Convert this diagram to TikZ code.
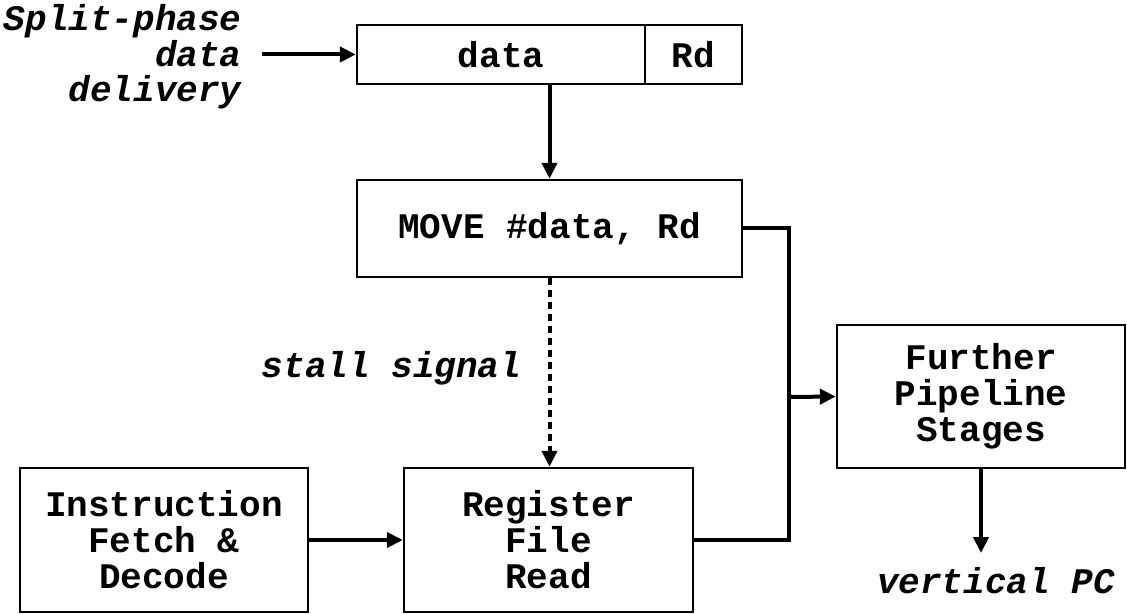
\documentclass[tikz,border=0pt]{standalone}
\usepackage{fontspec}
\setmainfont{Liberation Mono}
\usetikzlibrary{arrows.meta}
\begin{document}
\begin{tikzpicture}[x=0.5pt,y=-0.5pt,
  box/.style={draw,line width=1.2pt,inner sep=0pt,align=center,font=\fontsize{18}{18}\selectfont\bfseries},
  lbl/.style={inner sep=0pt,align=right,font=\fontsize{18}{17.8}\selectfont\bfseries\itshape},
  conn/.style={line width=2pt,-{Triangle[length=8pt,width=7.5pt]}},
  plainline/.style={line width=2pt},
  stallline/.style={line width=2pt,dash pattern=on 3.5pt off 2.5pt,-{Triangle[length=8pt,width=7.5pt]}},
]
\useasboundingbox (0,0) rectangle (1127,614);
\node[box,minimum width=144pt,minimum height=29.5pt] (datab) at (501,54.5) {data};
\node[box,minimum width=48.5pt,minimum height=29.5pt] (rdb) at (693.5,54.5) {Rd};
\node[box,minimum width=192.5pt,minimum height=48.5pt] (move) at (549.5,228.5) {MOVE \#data, Rd};
\node[box,minimum width=144pt,minimum height=71.5pt] (further) at (981,396.5) {Further\\Pipeline\\Stages};
\node[box,minimum width=144pt,minimum height=72pt] (instr) at (164,540) {Instruction\\Fetch \&\\Decode};
\node[box,minimum width=144.5pt,minimum height=72pt] (reg) at (548.5,540) {Register\\File\\Read};
\node[lbl,anchor=east] (split) at (242,57) {Split-phase\\data\\delivery};
\node[lbl,anchor=base] (stall) at (391.5,377) {stall signal};
\node[lbl,anchor=base] (vpc) at (996,593) {vertical PC};
\coordinate (splitstart) at (262,54.5);
\coordinate (bus) at (789,397);
\coordinate (pcend) at (981,553);
\draw[conn] (splitstart) -- (datab.west);
\draw[conn] (move.north |- datab.south) -- (move.north);
\draw[stallline] (move.south) -- (move.south |- reg.north);
\draw[plainline] (move.east) -| (bus) |- (reg.east);
\draw[conn] (bus) -- (further.west);
\draw[conn] (instr.east) -- (reg.west);
\draw[conn] (further.south) -- (pcend);
\end{tikzpicture}
\end{document}
